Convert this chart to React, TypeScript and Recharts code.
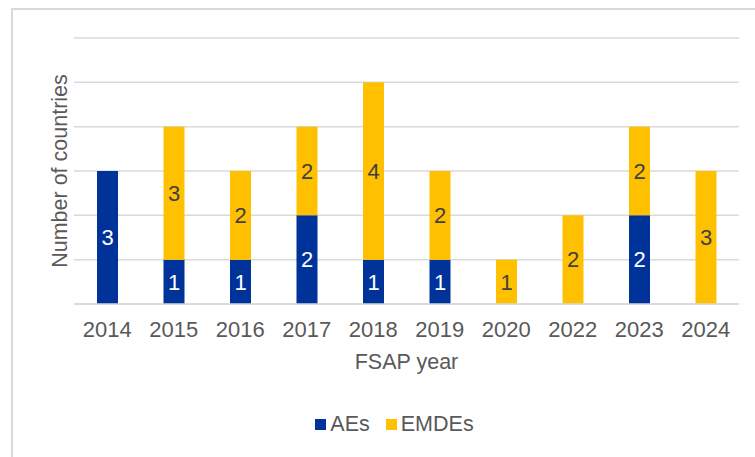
import React from "react"
import { Bar, BarChart, CartesianGrid, LabelList, Legend, XAxis, YAxis } from "recharts"

const years = ["2014", "2015", "2016", "2017", "2018", "2019", "2020", "2022", "2023", "2024"]
const aes = [3, 1, 1, 2, 1, 1, 0, 0, 2, 0]
const emdes = [0, 3, 2, 2, 4, 2, 1, 2, 2, 3]
const yTicks = [0, 1, 2, 3, 4, 5, 6]

const BLUE = "#00339a"
const GOLD = "#ffc000"
const TEXT = "#595959"
const GRID = "#d9d9d9"
const FONT = "'Liberation Sans', Arial, sans-serif"

const data = years.map((year, i) => ({ year, AEs: aes[i], EMDEs: emdes[i] }))

const hideZero = (v: any) => (v ? v : "")

const YTitle = (props: any) => {
  const vb = props.viewBox || {}
  const cy = (vb.y || 0) + (vb.height || 0) / 2
  return (
    <text x={60} y={cy} transform={`rotate(-90, 60, ${cy})`} textAnchor="middle" dominantBaseline="central" fill={TEXT} fontSize={21.5} fontFamily={FONT}>
      Number of countries
    </text>
  )
}

const LegendBox = () => (
  <div style={{ display: "flex", justifyContent: "center", alignItems: "center", fontFamily: FONT, fontSize: 21.5, color: TEXT }}>
    {[
      { name: "AEs", color: BLUE },
      { name: "EMDEs", color: GOLD },
    ].map((s) => (
      <span key={s.name} style={{ display: "inline-flex", alignItems: "center", margin: "0 8px" }}>
        <span style={{ width: 11, height: 11, background: s.color, display: "inline-block", marginRight: 4 }} />
        {s.name}
      </span>
    ))}
  </div>
)

export default function App() {
  return (
    <div style={{ position: "absolute", left: 0, top: 0, width: 755, height: 457, background: "#fff", overflow: "hidden" }}>
      <div style={{ position: "absolute", left: 11, top: 8, width: 800, height: 500, border: `2px solid ${GRID}`, boxSizing: "border-box" }} />
      <BarChart width={755} height={457} data={data} margin={{ top: 38, right: 16, bottom: 83, left: 0 }} barSize={21} style={{ fontFamily: FONT }}>
        <CartesianGrid vertical={false} stroke={GRID} strokeWidth={1.5} />
        <XAxis
          dataKey="year"
          height={70}
          tickLine={false}
          axisLine={{ stroke: GRID, strokeWidth: 1.5 }}
          tick={{ fill: TEXT, fontSize: 22 }}
          tickMargin={11}
          label={{ value: "FSAP year", position: "insideBottom", offset: 5, fill: TEXT, fontSize: 21.5 }}
        />
        <YAxis width={74} domain={[0, 6]} ticks={yTicks} interval={0} tick={() => <g />} tickLine={false} axisLine={false} label={<YTitle />} />
        <Legend layout="horizontal" verticalAlign="middle" align="center" wrapperStyle={{ top: 412, left: 17, width: 755 }} content={<LegendBox />} />
        <Bar dataKey="AEs" stackId="a" fill={BLUE} isAnimationActive={false}>
          <LabelList dataKey="AEs" position="center" fill="#ffffff" fontSize={22} formatter={hideZero} />
        </Bar>
        <Bar dataKey="EMDEs" stackId="a" fill={GOLD} isAnimationActive={false}>
          <LabelList dataKey="EMDEs" position="center" fill="#404040" fontSize={22} formatter={hideZero} />
        </Bar>
      </BarChart>
    </div>
  )
}
